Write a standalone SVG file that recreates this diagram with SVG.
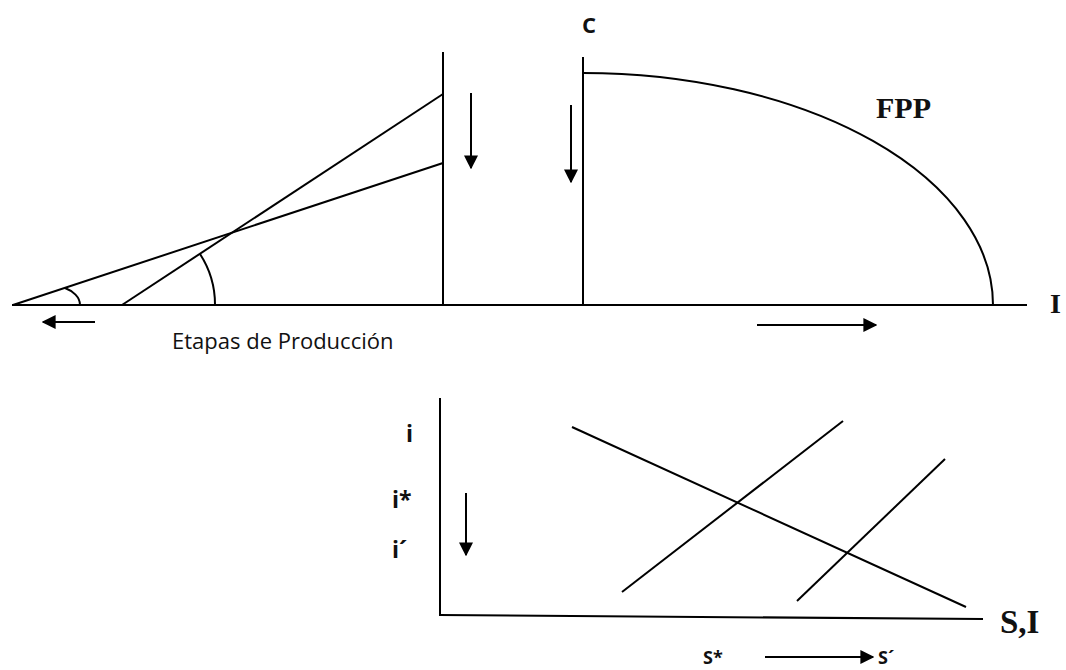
<svg xmlns="http://www.w3.org/2000/svg" width="1066" height="670" viewBox="0 0 1066 670">
<style>
.ln{stroke:#000;stroke-width:2;fill:none;stroke-linecap:butt}
.ar{stroke:#000;stroke-width:2;fill:none;marker-end:url(#ah)}
.sans{font-family:"Open Sans","DejaVu Sans",sans-serif;font-weight:bold;fill:#111}
.reg{font-family:"Open Sans","DejaVu Sans",sans-serif;fill:#111}
.serif{font-family:"Liberation Serif","Times New Roman",serif;font-weight:bold;fill:#111}
</style>
<defs>
<marker id="ah" viewBox="0 0 10 10" refX="9" refY="5" markerWidth="7" markerHeight="7" orient="auto" markerUnits="strokeWidth">
<path d="M0,0 L10,5 L0,10 Z" fill="#000"/>
</marker>
</defs>
<rect width="1066" height="670" fill="#fff"/>
<g id="top-chart">
<line class="ln" x1="12" y1="305" x2="1027" y2="305"/>
<line class="ln" x1="443" y1="52" x2="443" y2="305"/>
<line class="ln" x1="583" y1="57" x2="583" y2="305"/>
<path class="ln" d="M583,73 A410,232 0 0,1 993,305"/>
<line class="ln" x1="13" y1="305" x2="443" y2="163"/>
<line class="ln" x1="122" y1="305" x2="443" y2="94"/>
<path class="ln" d="M65,288 C73,291 80,297 80,305"/>
<path class="ln" d="M200,254 A93,93 0 0,1 215,305"/>
</g>
<g id="connectors">
<line class="ar" x1="95" y1="322" x2="43" y2="322"/>
<line class="ar" x1="757" y1="325" x2="876" y2="325"/>
<line class="ar" x1="471" y1="93" x2="471" y2="168"/>
<line class="ar" x1="571" y1="105" x2="571" y2="182"/>
<line class="ar" x1="466" y1="493" x2="466" y2="555"/>
<line class="ar" x1="765" y1="657" x2="873" y2="657"/>
</g>
<g id="bottom-chart">
<line class="ln" x1="440" y1="398" x2="440" y2="615"/>
<line class="ln" x1="439" y1="615" x2="983" y2="619"/>
<line class="ln" x1="572" y1="427" x2="966" y2="607"/>
<line class="ln" x1="622" y1="592" x2="843" y2="421"/>
<line class="ln" x1="797" y1="601" x2="945" y2="459"/>
</g>
<g id="labels">
<text class="sans" x="582" y="33" font-size="22">C</text>
<text class="serif" x="876" y="118" font-size="30">FPP</text>
<text class="serif" x="1050" y="313" font-size="28">I</text>
<text class="reg" x="172" y="349" font-size="22">Etapas de Producción</text>
<text class="sans" x="406" y="442" font-size="23">i</text>
<text class="sans" x="392" y="508" font-size="23">i*</text>
<text class="sans" x="392" y="558" font-size="23">i´</text>
<text class="serif" x="1000" y="633" font-size="33">S,I</text>
<text class="sans" x="703" y="664" font-size="18">S*</text>
<text class="sans" x="878" y="664" font-size="18">S´</text>
</g>
</svg>
